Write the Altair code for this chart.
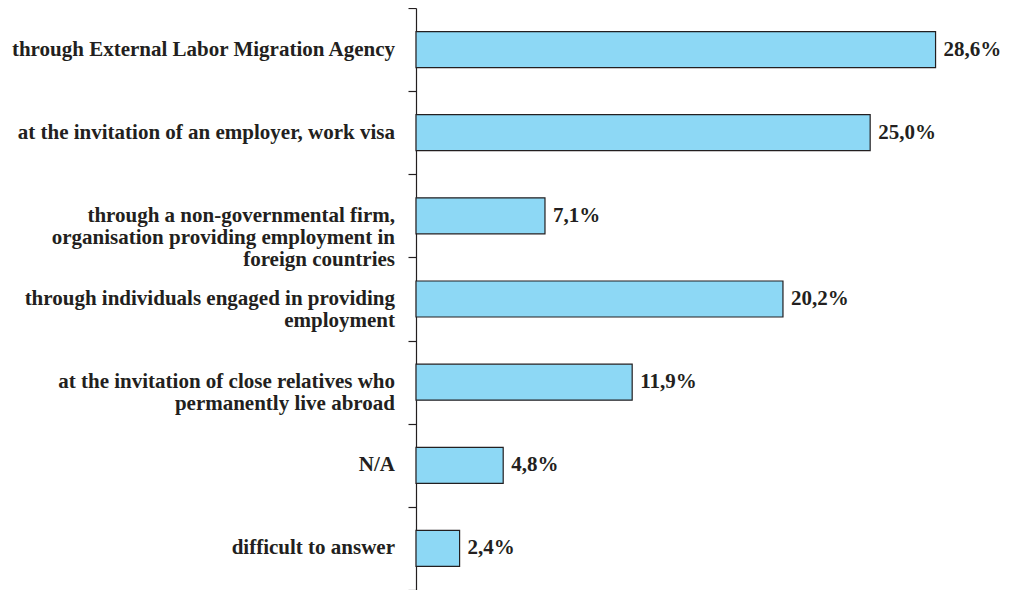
import altair as alt
import pandas as pd

categories = [
    "through External Labor Migration Agency",
    "at the invitation of an employer, work visa",
    "through a non-governmental firm,|organisation providing employment in|foreign countries",
    "through individuals engaged in providing|employment",
    "at the invitation of close relatives who|permanently live abroad",
    "N/A",
    "difficult to answer",
]
values = [28.6, 25.0, 7.1, 20.2, 11.9, 4.8, 2.4]
value_labels = ["28,6%", "25,0%", "7,1%", "20,2%", "11,9%", "4,8%", "2,4%"]

df = pd.DataFrame({"cat": categories, "val": values, "lab": value_labels})

FONT = "Liberation Serif"
TXT = "#231f20"

y = alt.Y("cat:N", sort=categories, axis=alt.Axis(
    labels=False, title=None, domainColor="#231f20", domainWidth=1.2,
    tickColor="#231f20", tickSize=8, tickBand="extent", tickWidth=1.2),
    scale=alt.Scale(paddingInner=0, paddingOuter=0))
x = alt.X("val:Q", scale=alt.Scale(domain=[0, 30]), axis=None)

bars = alt.Chart(df).mark_bar(fill="#8dd8f5", stroke="#231f20", strokeWidth=1.2,
                              height=36).encode(x=x, y=y)

vals = alt.Chart(df).mark_text(align="left", baseline="middle", dx=8, font=FONT,
                                fontWeight="bold", fontSize=21, color=TXT).encode(
    x=x, y=alt.Y("cat:N", sort=categories), text="lab:N")

cats = alt.Chart(df).mark_text(align="right", baseline="middle", font=FONT, fontWeight="bold",
                                fontSize=21, color=TXT, lineBreak="|", lineHeight=22).encode(
    x=alt.value(-21), y=alt.Y("cat:N", sort=categories), text="cat:N")

chart = alt.layer(bars, vals, cats).properties(
    width=545, height=582,
    autosize=alt.AutoSizeParams(type="none"),
    padding={"left": 408, "top": 0, "right": 42, "bottom": 0},
).configure_view(stroke=None)

chart.save("out.html", embed_options={"renderer": "svg", "actions": False})
